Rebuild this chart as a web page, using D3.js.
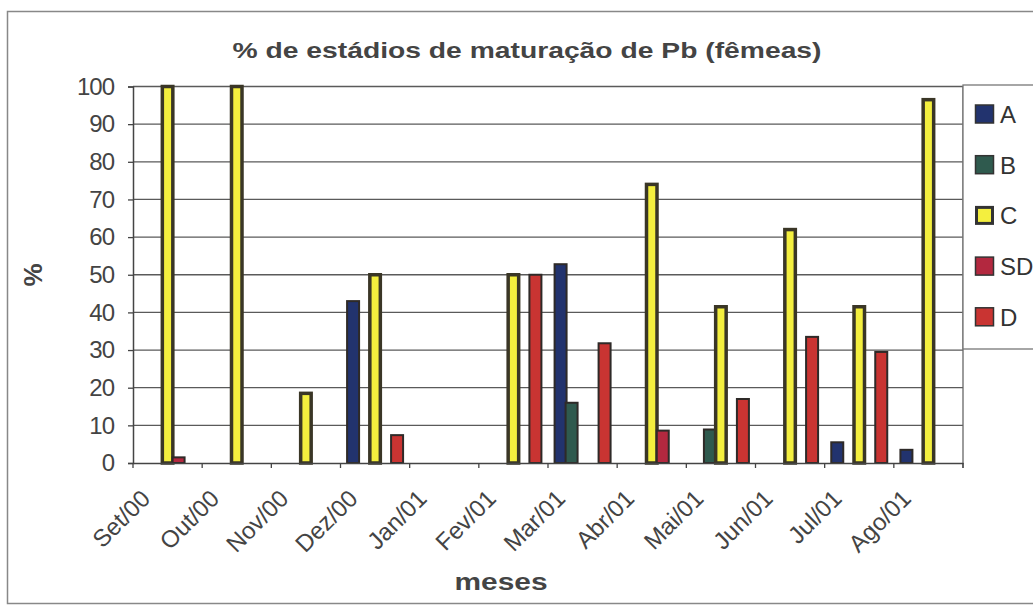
<!DOCTYPE html>
<html>
<head>
<meta charset="utf-8">
<script src="https://cdn.jsdelivr.net/npm/d3@7"></script>
<style>
  body { margin: 0; background: #fff; }
  svg { display: block; font-family: "Liberation Sans", Arial, sans-serif; }
</style>
</head>
<body>
<svg id="chart" width="1033" height="606"></svg>
<script>
// months on the x axis
var months = ['Set/00', 'Out/00', 'Nov/00', 'Dez/00', 'Jan/01', 'Fev/01',
  'Mar/01', 'Abr/01', 'Mai/01', 'Jun/01', 'Jul/01', 'Ago/01'];

// maturation stages
var stages = ['A', 'B', 'C', 'SD', 'D'];

// % per month, one array per stage
var valuesA  = [0, 0, 0, 43, 0, 0, 52.8, 0, 0, 0, 5.5, 3.5];
var valuesB  = [0, 0, 0, 0, 0, 0, 16, 0, 8.9, 0, 0, 0];
var valuesC  = [100, 100, 18.5, 50, 0, 50, 0, 74, 41.5, 62, 41.5, 96.5];
var valuesSD = [1.5, 0, 0, 0, 0, 0, 0, 8.6, 0, 0, 0, 0];
var valuesD  = [0, 0, 0, 7.4, 0, 50, 31.8, 0, 17, 33.5, 29.5, 0];

var yTicks = [0, 10, 20, 30, 40, 50, 60, 70, 80, 90, 100];

var stageColors = {
  A: '#22336e',
  B: '#2f5a4e',
  C: '#f4ef3e',
  SD: '#b3283f',
  D: '#c93432'
};

var series = [valuesA, valuesB, valuesC, valuesSD, valuesD].map(function (vals, i) {
  return { key: stages[i], values: vals };
});

var svg = d3.select('#chart');

// outer chart frame
svg.append('rect')
  .attr('x', 7.5).attr('y', 11.5)
  .attr('width', 1040).attr('height', 592)
  .attr('fill', 'none').attr('stroke', '#888').attr('stroke-width', 1.5);

var plotLeft = 133, plotRight = 963, plotTop = 86.5, plotBottom = 463;

var x = d3.scaleBand().domain(months).range([plotLeft, plotRight]).padding(0);
var xs = d3.scalePoint().domain(stages).range([-29, 15]); // overlapped bars
var y = d3.scaleLinear().domain([0, 100]).range([plotBottom, plotTop]);

// gridlines
svg.append('g')
  .selectAll('line')
  .data(yTicks.filter(function (d) { return d > 0; }))
  .enter()
  .append('line')
  .attr('x1', plotLeft).attr('x2', plotRight)
  .attr('y1', function (d) { return y(d); })
  .attr('y2', function (d) { return y(d); })
  .attr('stroke', '#5a5a5a').attr('stroke-width', 1.3);

// right border of plot area
svg.append('line')
  .attr('x1', plotRight).attr('x2', plotRight)
  .attr('y1', plotTop).attr('y2', plotBottom + 5)
  .attr('stroke', '#666').attr('stroke-width', 1.3);

// bars
series.forEach(function (s) {
  var isC = s.key === 'C';
  svg.append('g')
    .selectAll('rect')
    .data(s.values.map(function (v, i) { return { m: months[i], v: v }; })
      .filter(function (d) { return d.v > 0; }))
    .enter()
    .append('rect')
    .attr('x', function (d) { return x(d.m) + x.bandwidth() / 2 + xs(s.key) + (isC ? 1.75 : 1); })
    .attr('y', function (d) { return y(d.v); })
    .attr('width', isC ? 10.5 : 12)
    .attr('height', function (d) { return plotBottom - y(d.v); })
    .attr('fill', stageColors[s.key])
    .attr('stroke', isC ? '#3a3626' : '#2e2a28')
    .attr('stroke-width', isC ? 3.5 : 2);
});

// y axis
var yAxis = svg.append('g')
  .attr('transform', 'translate(' + plotLeft + ',0)')
  .call(d3.axisLeft(y).tickValues(yTicks).tickSize(5).tickPadding(14));
yAxis.select('.domain').attr('stroke', '#444').attr('stroke-width', 1.5);
yAxis.selectAll('.tick line').attr('stroke', '#444').attr('stroke-width', 1.3);
yAxis.selectAll('.tick text')
  .attr('fill', '#444')
  .style('font-family', '"Liberation Sans", Arial, sans-serif')
  .style('font-size', '24px')
  .style('letter-spacing', '-1px');

// x axis
var xAxis = svg.append('g')
  .attr('transform', 'translate(0,' + plotBottom + ')')
  .call(d3.axisBottom(x).tickSize(0).tickFormat(''));
xAxis.select('.domain').attr('stroke', '#444').attr('stroke-width', 1.5);

// ticks at category boundaries
svg.append('g')
  .selectAll('line')
  .data(months.concat(['end']))
  .enter()
  .append('line')
  .attr('x1', function (d, i) { return plotLeft + i * x.bandwidth(); })
  .attr('x2', function (d, i) { return plotLeft + i * x.bandwidth(); })
  .attr('y1', plotBottom).attr('y2', plotBottom + 5)
  .attr('stroke', '#444').attr('stroke-width', 1.3);

// rotated month labels
svg.append('g')
  .selectAll('text')
  .data(months)
  .enter()
  .append('text')
  .attr('transform', function (d) {
    return 'translate(' + (x(d) + x.bandwidth() / 2 - 16) + ',' + 500 + ') rotate(-45)';
  })
  .attr('text-anchor', 'end')
  .attr('fill', '#444')
  .style('font-size', '24px')
  .text(function (d) { return d; });

// title
svg.append('text')
  .attr('x', 527).attr('y', 58)
  .attr('text-anchor', 'middle')
  .attr('fill', '#444')
  .attr('textLength', 589)
  .attr('lengthAdjust', 'spacingAndGlyphs')
  .style('font-size', '22px')
  .style('font-weight', 'bold')
  .text('% de estádios de maturação de Pb (fêmeas)');

// axis titles
svg.append('text')
  .attr('transform', 'translate(42,275) rotate(-90)')
  .attr('text-anchor', 'middle')
  .attr('fill', '#444')
  .style('font-size', '26px')
  .style('font-weight', 'bold')
  .text('%');

svg.append('text')
  .attr('x', 501).attr('y', 590)
  .attr('text-anchor', 'middle')
  .attr('fill', '#444')
  .attr('textLength', 93)
  .attr('lengthAdjust', 'spacingAndGlyphs')
  .style('font-size', '23px')
  .style('font-weight', 'bold')
  .text('meses');

// legend
var legend = svg.append('g');
legend.append('rect')
  .attr('x', 963).attr('y', 85)
  .attr('width', 100).attr('height', 264)
  .attr('fill', '#fff').attr('stroke', '#777').attr('stroke-width', 1.3);

var item = legend.selectAll('g.item')
  .data(stages)
  .enter()
  .append('g')
  .attr('class', 'item')
  .attr('transform', function (d, i) { return 'translate(975,' + (114 + i * 50.7) + ')'; });

item.append('rect')
  .attr('x', 0.5).attr('y', -9)
  .attr('width', function (d) { return d === 'C' ? 16 : 18; })
  .attr('height', function (d) { return d === 'C' ? 16 : 18; })
  .attr('transform', function (d) { return d === 'C' ? 'translate(1,1)' : null; })
  .attr('fill', function (d) { return stageColors[d]; })
  .attr('stroke', '#333')
  .attr('stroke-width', function (d) { return d === 'C' ? 3 : 1.5; });

item.append('text')
  .attr('x', 25).attr('y', 9)
  .attr('fill', '#333')
  .style('font-size', '24px')
  .text(function (d) { return d; });
</script>
</body>
</html>
